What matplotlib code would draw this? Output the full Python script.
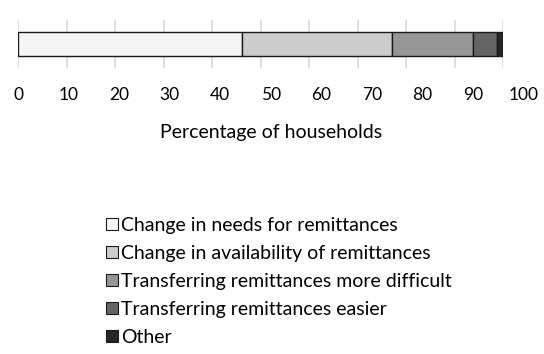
import matplotlib.pyplot as plt
from matplotlib.patches import Patch

categories = ["Change in needs for remittances",
              "Change in availability of remittances",
              "Transferring remittances more difficult",
              "Transferring remittances easier",
              "Other"]
values = [46.2, 30.9, 16.6, 5.1, 1.2]
colors = ["#f5f5f5", "#cccccc", "#969696", "#646464", "#262626"]
ticks = [0, 10, 20, 30, 40, 50, 60, 70, 80, 90, 100]

plt.rcParams['font.family'] = ['Lato', 'DejaVu Sans']

fig = plt.figure(figsize=(5.44, 3.54), dpi=100)
bottom = 1 - 68 / 354
ax = fig.add_axes([18 / 544, bottom, 485.3 / 544, 48 / 354])

left = 0
for v, c in zip(values, colors):
    ax.barh(0, v, left=left, height=0.5, color=c, edgecolor="#1a1a1a", linewidth=1.0, zorder=3)
    left += v

ax.set_xlim(0, 100)
ax.set_ylim(-0.5, 0.5)
ax.set_xticks(ticks)
ax.set_xticklabels([])
ax.set_yticks([])
ax.grid(axis='x', color='#d9d9d9', linewidth=1.2, zorder=0)
for s in ax.spines.values():
    s.set_visible(False)
ax.tick_params(axis='x', length=0)

# tick labels sit on a slightly wider scale than the gridlines (as in the source image)
lab = fig.add_axes([18 / 544, bottom, 505.5 / 544, 0.001])
lab.set_xlim(0, 100)
lab.set_xticks(ticks)
lab.set_yticks([])
lab.patch.set_visible(False)
for s in lab.spines.values():
    s.set_visible(False)
lab.tick_params(axis='x', length=0, pad=14, labelsize=12.5)
lab.set_xlabel("Percentage of households", fontsize=14, labelpad=15)

handles = [Patch(facecolor=c, edgecolor="#1a1a1a", linewidth=0.8) for c in colors]
fig.legend(handles, categories, loc='upper left', bbox_to_anchor=(106 / 544, 1 - 217 / 354),
           frameon=False, fontsize=14, handlelength=0.62, handleheight=0.57,
           handletextpad=0.15, labelspacing=0.57, borderaxespad=0, borderpad=0)

fig.savefig("out.png", dpi=100)
